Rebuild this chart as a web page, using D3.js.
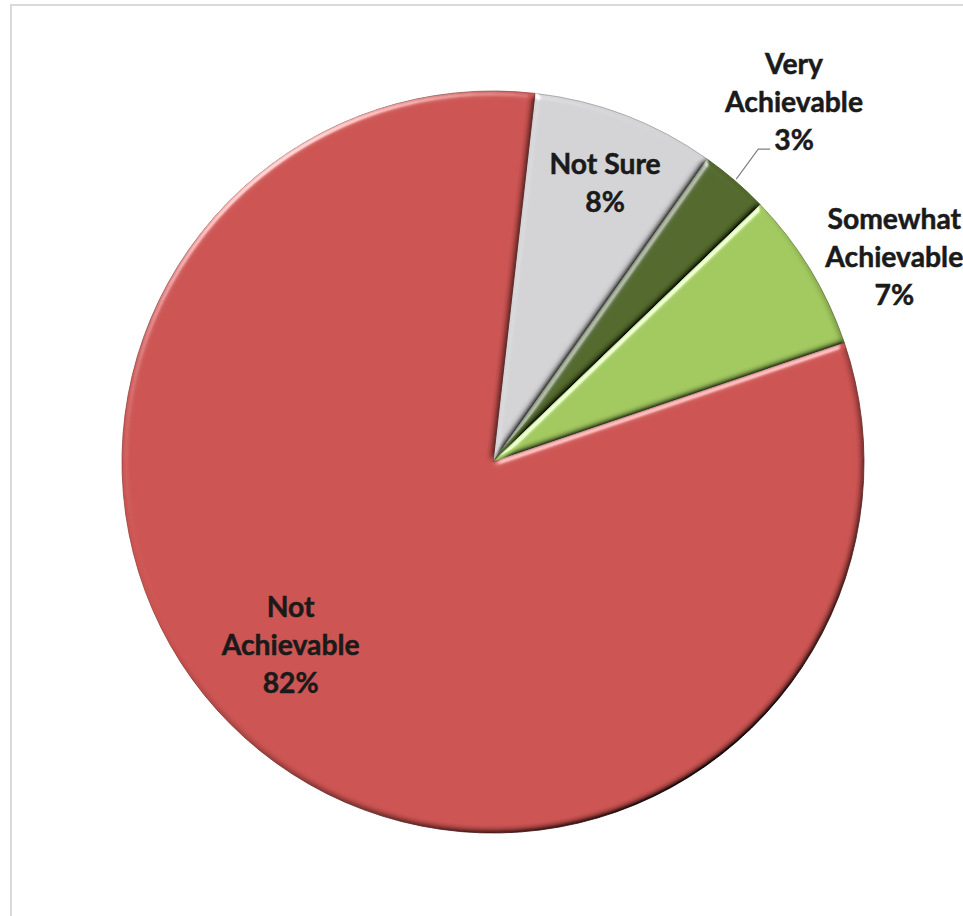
<!DOCTYPE html>
<html>
<head>
<meta charset="utf-8">
<script src="https://cdn.jsdelivr.net/npm/d3@7"></script>
<style>
  html, body { margin: 0; padding: 0; background: #ffffff; overflow: hidden; }
  svg { display: block; }
  .lbl { font-family: Lato, "Open Sans", sans-serif; font-weight: 700; fill: #1a1a1a; stroke: #1a1a1a; stroke-width: 0.5px; }
</style>
</head>
<body>
<svg id="chart" width="963" height="916"></svg>
<script>
// Survey answers, in clockwise order from the top of the pie
const categories = ["Not Sure", "Very Achievable", "Somewhat Achievable", "Not Achievable"];
const labelLines = [["Not Sure"], ["Very", "Achievable"], ["Somewhat", "Achievable"], ["Not", "Achievable"]];
const shares = [8, 3, 7, 82];
const sliceColors = ["#d3d3d5", "#53692b", "#a2c95f", "#cc5452"];

// Label placement around each slice: angle shift (deg) from the slice middle, radius factor
const labelAngleShift = [1, -0.8, 4.2, 9];
const labelRadius = [0.81, 1.265, 1.215, 0.735];
const leaderLine = [false, true, false, false];

const W = 963, H = 916;
const cx = 493, cy = 462, R = 371;
const startDeg = 6.5;
const rad = d => d * Math.PI / 180;

const svg = d3.select("#chart");

// Chart area frame
svg.append("rect")
  .attr("x", 11).attr("y", 5).attr("width", 1000).attr("height", 1000)
  .attr("fill", "#ffffff").attr("stroke", "#d9d9d9").attr("stroke-width", 2);

// Soft bevel: diffuse shading multiplied in, plus a specular rim
const defs = svg.append("defs");
const f = defs.append("filter").attr("id", "bevel")
  .attr("x", "-5%").attr("y", "-5%").attr("width", "110%").attr("height", "110%");
f.append("feGaussianBlur").attr("in", "SourceAlpha").attr("stdDeviation", 3).attr("result", "blur");
f.append("feDiffuseLighting").attr("in", "blur").attr("surfaceScale", 3)
  .attr("diffuseConstant", 1 / Math.sin(rad(35))).attr("lighting-color", "#ffffff").attr("result", "diff")
  .append("feDistantLight").attr("azimuth", 235).attr("elevation", 35);
f.append("feComposite").attr("in", "SourceGraphic").attr("in2", "diff")
  .attr("operator", "arithmetic").attr("k1", 1).attr("k2", 0).attr("k3", 0).attr("k4", 0).attr("result", "shaded");
f.append("feSpecularLighting").attr("in", "blur").attr("surfaceScale", 3)
  .attr("specularConstant", 0.6).attr("specularExponent", 40).attr("lighting-color", "#ffffff").attr("result", "spec")
  .append("feDistantLight").attr("azimuth", 235).attr("elevation", 35);
f.append("feComposite").attr("in", "spec").attr("in2", "SourceAlpha").attr("operator", "in").attr("result", "specIn");
f.append("feComposite").attr("in", "shaded").attr("in2", "specIn")
  .attr("operator", "arithmetic").attr("k1", 0).attr("k2", 1).attr("k3", 1).attr("k4", 0);

const data = categories.map((c, i) => ({ name: c, value: shares[i], color: sliceColors[i], lines: labelLines[i], idx: i }));

const pie = d3.pie().value(d => d.value).sort(null)
  .startAngle(rad(startDeg)).endAngle(rad(startDeg) + 2 * Math.PI);
const arcs = pie(data);
const arc = d3.arc().innerRadius(0).outerRadius(R);

const g = svg.append("g").attr("transform", `translate(${cx},${cy})`);

g.selectAll("path.slice").data(arcs).join("path")
  .attr("class", "slice")
  .attr("d", arc)
  .attr("fill", d => d.data.color)
  .attr("stroke", d => d3.color(d.data.color).darker(0.9))
  .attr("stroke-width", 0.8)
  .attr("filter", "url(#bevel)");

// Labels
const lineH = 38;
const polar = (a, r) => [r * Math.sin(a), -r * Math.cos(a)];

// pick a font size so that the word "Achievable" is about 138px wide
const probe = svg.append("text").attr("class", "lbl").style("font-size", "28px").text("Achievable");
const probeW = probe.node().getComputedTextLength();
probe.remove();
const fontSize = 28 * 138 / probeW;

arcs.forEach(d => {
  const i = d.data.idx;
  const mid = (d.startAngle + d.endAngle) / 2 + rad(labelAngleShift[i]);
  const [lx, ly] = polar(mid, R * labelRadius[i]);
  const lines = d.data.lines.concat([d.data.value + "%"]);
  const capH = fontSize * 0.72;
  const firstBase = ly - (lines.length - 1) * lineH / 2 + capH / 2;
  const t = g.append("text").attr("class", "lbl").attr("text-anchor", "middle")
    .style("font-size", fontSize + "px");
  lines.forEach((s, k) => {
    t.append("tspan").attr("x", lx).attr("y", firstBase + k * lineH).text(s);
  });
  if (leaderLine[i]) {
    const lastBase = firstBase + (lines.length - 1) * lineH;
    const tmp = g.append("text").attr("class", "lbl").style("font-size", fontSize + "px").text(lines[lines.length - 1]);
    const wLast = tmp.node().getComputedTextLength();
    tmp.remove();
    const endX = lx - wLast / 2 - 4;
    const endY = lastBase - 1;
    const a0 = (d.startAngle + d.endAngle) / 2;
    const [sx, sy] = polar(a0, R + 2);
    g.append("polyline")
      .attr("points", [[sx, sy], [endX - 12, endY], [endX, endY]].map(p => p.join(",")).join(" "))
      .attr("fill", "none").attr("stroke", "#808080").attr("stroke-width", 1.2);
  }
});
</script>
</body>
</html>
